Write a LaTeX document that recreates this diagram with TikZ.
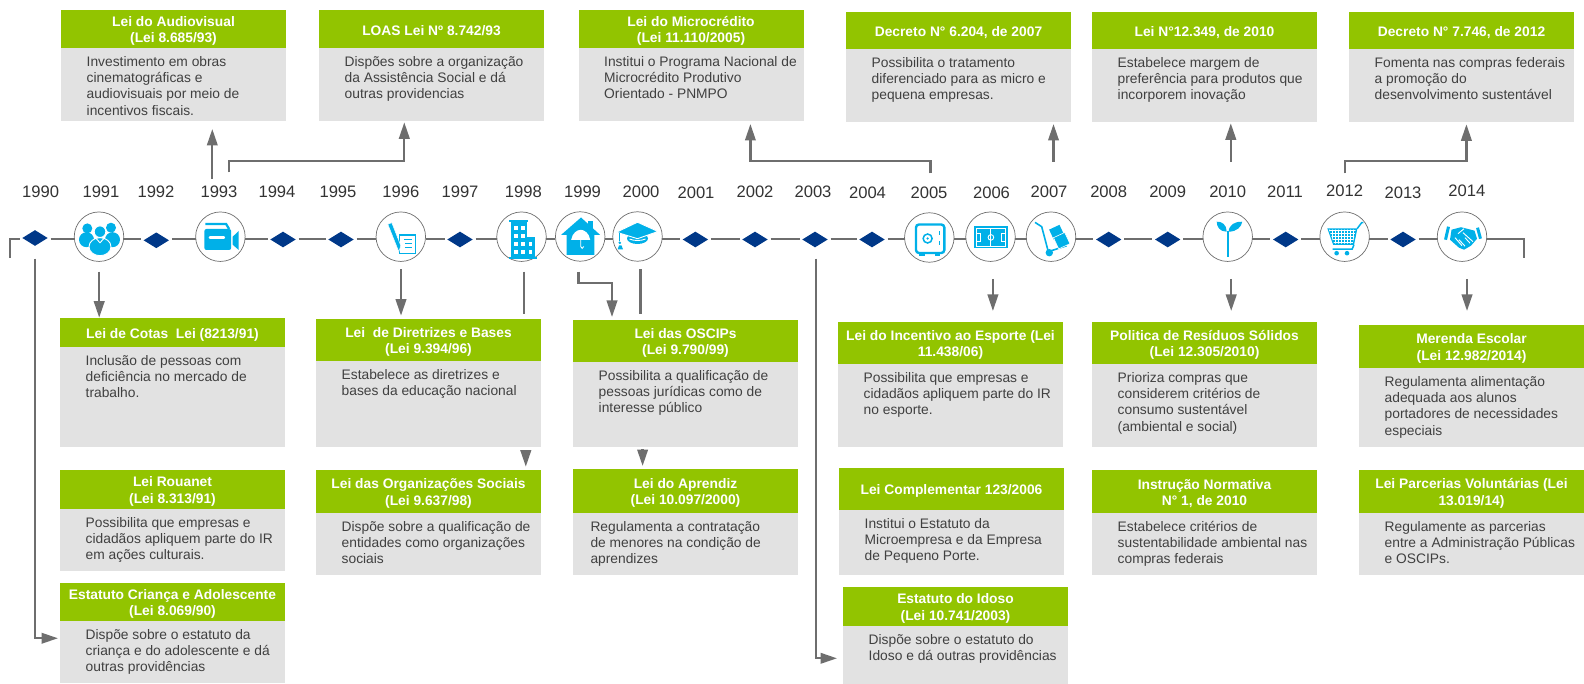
\documentclass[tikz,border=0pt]{standalone}
\usepackage{fontspec}
\setmainfont{Liberation Sans}
\usepackage{xcolor}
\usepackage{tikz}
\usetikzlibrary{shapes,arrows,positioning,calc,arrows.meta}

\definecolor{lawgreen}{RGB}{146,196,0}
\definecolor{lawgray}{RGB}{226,226,226}
\definecolor{lawtext}{RGB}{64,64,64}
\definecolor{yeartext}{RGB}{51,51,51}
\definecolor{yearblue}{RGB}{0,56,136}
\definecolor{iconblue}{RGB}{0,176,232}
\definecolor{flowgray}{RGB}{110,110,110}

\tikzset{
    headbox/.style={fill=lawgreen, text=white, font=\fontsize{13.8}{16.4}\selectfont\bfseries, align=center, minimum width=225pt, inner sep=0pt, outer sep=0pt},
    bodybox/.style={fill=lawgray, minimum width=225pt, inner sep=0pt, outer sep=0pt},
    bodytext/.style={text=lawtext, font=\fontsize{13.8}{16.4}\selectfont, align=left, anchor=north west, inner sep=0pt},
    yearlabel/.style={text=yeartext, font=\fontsize{16.6}{18}\selectfont, inner sep=0pt},
    yearmark/.style={diamond, fill=yearblue, minimum width=27pt, minimum height=17.3pt, inner sep=0pt, outer sep=2pt},
    yearring/.style={circle, draw=flowgray, line width=0.7pt, fill=white, minimum size=49.5pt, inner sep=0pt, outer sep=0pt},
    axisline/.style={draw=flowgray, line width=2.2pt},
    flowline/.style={draw=flowgray, line width=2.3pt},
    flow/.style={flowline, -{Triangle[length=16.5pt,width=10.5pt]}},
    icon/.style={fill=iconblue},
    iconline/.style={draw=iconblue, line width=1.8pt},
    iconcut/.style={draw=white, line width=0.9pt}
}

% one law: [text indent] name, left, top, head bottom, bottom, title, text
\newcommand{\lawcard}[8][25.5]{
    \node[headbox, minimum height={(#5-#4)*1pt}] (#2) at ({#3+112.5},{(#4+#5)/2}) {\rule{0pt}{14pt}#7};
    \node[bodybox, minimum height={(#6-#5)*1pt}] (#2body) at ({#3+112.5},{(#5+#6)/2}) {};
    \node[bodytext] (#2text) at ({#3+#1},{#5+6.5}) {\strut #8};
}

\begin{document}
\begin{tikzpicture}[x=1pt, y=-1pt]
    \useasboundingbox (0,0) rectangle (1584,684);

    % Top row
    \lawcard{audiovisual}{61}{10}{48}{121}{Lei do Audiovisual\\(Lei 8.685/93)}{Investimento em obras\\cinematográficas e\\audiovisuais por meio de\\incentivos fiscais.}
    \lawcard{loas}{319}{10}{48}{121}{LOAS Lei Nº 8.742/93}{Dispões sobre a organização\\da Assistência Social e dá\\outras providencias}
    \lawcard{microcredito}{578.5}{10}{48}{121}{Lei do Microcrédito\\(Lei 11.110/2005)}{Institui o Programa Nacional de\\Microcrédito Produtivo\\Orientado - PNMPO}
    \lawcard{decretoa}{846}{12}{49}{121.7}{Decreto N° 6.204, de 2007}{Possibilita o tratamento\\diferenciado para as micro e\\pequena empresas.}
    \lawcard{margem}{1092}{12}{49}{122}{Lei N°12.349, de 2010}{Estabelece margem de\\preferência para produtos que\\incorporem inovação}
    \lawcard{decretob}{1349}{12}{49}{122}{Decreto N° 7.746, de 2012}{Fomenta nas compras federais\\a promoção do\\desenvolvimento sustentável}

    % Bottom rows
    \lawcard{cotas}{60}{318}{347}{446.7}{Lei de Cotas\ \ Lei (8213/91)}{Inclusão de pessoas com\\deficiência no mercado de\\trabalho.}
    \lawcard{rouanet}{60}{470}{509}{570.7}{Lei Rouanet\\(Lei 8.313/91)}{Possibilita que empresas e\\cidadãos apliquem parte do IR\\em ações culturais.}
    \lawcard{eca}{60}{583}{621}{682.7}{Estatuto Criança e Adolescente\\(Lei 8.069/90)}{Dispõe sobre o estatuto da\\criança e do adolescente e dá\\outras providências}
    \lawcard{diretrizes}{316}{319}{361}{446.7}{Lei\ \ de Diretrizes e Bases\\(Lei 9.394/96)}{Estabelece as diretrizes e\\bases da educação nacional}
    \lawcard{sociais}{316}{470}{513}{575}{Lei das Organizações Sociais\\(Lei 9.637/98)}{Dispõe sobre a qualificação de\\entidades como organizações\\sociais}
    \lawcard{oscips}{573}{320}{362}{446.7}{Lei das OSCIPs\\(Lei 9.790/99)}{Possibilita a qualificação de\\pessoas jurídicas como de\\interesse público}
    \lawcard[17.3]{aprendiz}{573}{469}{513}{575}{Lei do Aprendiz\\(Lei 10.097/2000)}{Regulamenta a contratação\\de menores na condição de\\aprendizes}
    \lawcard{esporte}{838}{322}{364}{446.7}{Lei do Incentivo ao Esporte (Lei\\11.438/06)}{Possibilita que empresas e\\cidadãos apliquem parte do IR\\no esporte.}
    \lawcard{complementar}{839}{468}{510}{575}{Lei Complementar 123/2006}{Institui o Estatuto da\\Microempresa e da Empresa\\de Pequeno Porte.}
    \lawcard{idoso}{843}{587}{626}{683.7}{Estatuto do Idoso\\(Lei 10.741/2003)}{Dispõe sobre o estatuto do\\Idoso e dá outras providências}
    \lawcard{residuos}{1092}{322}{364}{446.7}{Politica de Resíduos Sólidos\\(Lei 12.305/2010)}{Prioriza compras que\\considerem critérios de\\consumo sustentável\\(ambiental e social)}
    \lawcard{instrucao}{1092}{470}{513}{575}{Instrução Normativa\\N° 1, de 2010}{Estabelece critérios de\\sustentabilidade ambiental nas\\compras federais}
    \lawcard{merenda}{1359}{325}{368}{446.7}{Merenda Escolar\\(Lei 12.982/2014)}{Regulamenta alimentação\\adequada aos alunos\\portadores de necessidades\\especiais}
    \lawcard{parcerias}{1359}{470}{513}{575}{Lei Parcerias Voluntárias (Lei\\13.019/14)}{Regulamente as parcerias\\entre a Administração Públicas\\e OSCIPs.}

    % Year labels
    \foreach \yr/\xx/\yy in {1990/40.6/191.7, 1991/101/191.7, 1992/156/191.7, 1993/219/191.7, 1994/277/191.7, 1995/338/191.7, 1996/400.8/191.7, 1997/460/191.7, 1998/523.3/191.7, 1999/582.5/191.7, 2000/641/191.7, 2001/696/192.7, 2002/755/191.7, 2003/813/191.7, 2004/867.5/192.7, 2005/929/192.7, 2006/991.5/192.7, 2007/1049/191.5, 2008/1108.7/192, 2009/1167.7/192, 2010/1227.7/192, 2011/1285/192, 2012/1344.6/191, 2013/1403/193, 2014/1466.8/191} {
        \node[yearlabel] (label\yr) at (\xx,\yy) {\yr};
    }

    % Years without an event
    \foreach \yr/\xx/\yy in {1990/35/238, 1992/156.3/240.3, 1994/283/239.5, 1995/341/239.5, 1997/460/239.5, 2001/695.4/239.5, 2002/755/239.5, 2003/815/239.5, 2004/872/239.5, 2008/1108.7/239.5, 2009/1167.7/239.5, 2011/1285.7/239.5, 2013/1403/239.5} {
        \node[yearmark] (y\yr) at (\xx,\yy) {};
    }

    % Years with an event
    \foreach \yr/\xx/\yy in {1991/99/236.7, 1993/220.4/236.7, 1996/400.8/236.7, 1998/521.5/236.7, 1999/580.2/236.5, 2000/637.5/236.5, 2005/929.3/237.5, 2006/990.5/236.7, 2007/1051/236.7, 2010/1227.7/236.7, 2012/1344.6/236.7, 2014/1462/236.7} {
        \node[yearring] (y\yr) at (\xx,\yy) {};
    }

    % Axis
    \coordinate (axis) at (0,239.3);
    \coordinate (axisstart) at (9.6,258);
    \coordinate (axisend) at (1523.7,258);
    \draw[axisline] (axisstart) |- (y1990.west |- axis);
    \foreach \a/\b in {1990/1991, 1991/1992, 1992/1993, 1993/1994, 1994/1995, 1995/1996, 1996/1997, 1997/1998, 1998/1999, 1999/2000, 2000/2001, 2001/2002, 2002/2003, 2003/2004, 2004/2005, 2005/2006, 2006/2007, 2007/2008, 2008/2009, 2009/2010, 2010/2011, 2011/2012, 2012/2013, 2013/2014} {
        \draw[axisline] (y\a.east |- axis) -- (y\b.west |- axis);
    }
    \draw[axisline] (y2014.east |- axis) -| (axisend);

    % Up to the top row
    \coordinate (s1993a) at (212.3,179);
    \coordinate (s1993b) at (228.7,172.3);
    \coordinate (k1993) at (404.3,160.7);
    \coordinate (s2005) at (930.4,173.3);
    \coordinate (k2005) at (750.4,161.3);
    \coordinate (s2007) at (1053.5,161.7);
    \coordinate (s2010a) at (1230.8,161.7);
    \coordinate (s2012) at (1344.8,173.3);
    \coordinate (k2012) at (1466.4,160.7);
    \draw[flow, shorten >=8pt] (s1993a) -- (s1993a |- audiovisualbody.south);
    \draw[flow, shorten >=1.3pt] (s1993b) |- (k1993) -- (k1993 |- loasbody.south);
    \draw[flow, shorten >=3pt] (s2005) |- (k2005) -- (k2005 |- microcreditobody.south);
    \draw[flow, shorten >=2.3pt] (s2007) -- (s2007 |- decretoabody.south);
    \draw[flow, shorten >=1.3pt] (s2010a) -- (s2010a |- margembody.south);
    \draw[flow, shorten >=2.3pt] (s2012) |- (k2012) -- (k2012 |- decretobbody.south);

    % Down to the lower rows
    \coordinate (s1990) at (35,258.7);
    \coordinate (s1991) at (99.2,271.7);
    \coordinate (s1996) at (401,269.3);
    \coordinate (s1998) at (523.8,271.7);
    \coordinate (h1998) at (525.8,450);
    \coordinate (s1999) at (578.6,271.7);
    \coordinate (k1999) at (612,282.7);
    \coordinate (s2000) at (640.4,269.3);
    \coordinate (h2000) at (642.6,449.3);
    \coordinate (s2003) at (815.8,258.7);
    \coordinate (s2006) at (992.9,279);
    \coordinate (s2010b) at (1231.2,279);
    \coordinate (s2014) at (1467,279);
    \draw[flow, shorten >=2pt] (s1990) |- ([yshift=13.6pt]ecabody.west);
    \draw[flow, shorten >=0.3pt] (s1991) -- (s1991 |- cotas.north);
    \draw[flow, shorten >=3.3pt] (s1996) -- (s1996 |- diretrizes.north);
    \draw[flowline, shorten >=5pt] (s1998) -- (s1998 |- diretrizes.north);
    \draw[flow, shorten >=3.3pt] (h1998) -- (h1998 |- sociais.north);
    \draw[flow, shorten >=3pt] (s1999) |- (k1999) -- (k1999 |- oscips.north);
    \draw[flowline, shorten >=6pt] (s2000) -- (s2000 |- oscips.north);
    \draw[flow, shorten >=3pt] (h2000) -- (h2000 |- aprendiz.north);
    \draw[flow, shorten >=6pt] (s2003) |- ([yshift=-3.45pt]idosobody.west);
    \draw[flow, shorten >=11pt] (s2006) -- (s2006 |- esporte.north);
    \draw[flow, shorten >=11pt] (s2010b) -- (s2010b |- residuos.north);
    \draw[flow, shorten >=14pt] (s2014) -- (s2014 |- merenda.north);

    % Icons: people
    \begin{scope}[shift={(y1991)}]
        \fill[icon] (-12.5,3) ellipse (7.5 and 7.5);
        \fill[icon] (13.5,3) ellipse (7.5 and 7.5);
        \fill[icon] (-11.7,-8.3) circle (5);
        \fill[icon] (12,-9) circle (5);
        \fill[icon, draw=white, line width=0.9pt] (1,10) ellipse (11 and 9);
        \fill[icon, draw=white, line width=0.9pt] (1,-5) circle (5.8);
        \draw[iconcut] (-3,1.8) -- (1,6) -- (5,1.8);
    \end{scope}

    % Icons: camera
    \begin{scope}[shift={(y1993)}]
        \fill[icon, rounded corners=2pt] (-16,-7.7) rectangle (10.7,13.3);
        \fill[icon] (12.3,0) -- (18.3,-5.7) -- (18.3,13.3) -- (12.3,8) -- cycle;
        \draw[iconline, line width=2.3pt] (-15,-12.7) -- (5.7,-12.7) -- (8.7,-7.7);
        \draw[draw=white, line width=2.6pt, line cap=round] (-10.5,1) -- (3.5,1);
    \end{scope}

    % Icons: pen and document
    \begin{scope}[shift={(y1996)}]
        \draw[iconline, line width=1.5pt] (-1.4,-1.7) rectangle (14.8,16.7);
        \draw[iconline, line width=1.2pt] (3,3) -- (11,3) (4,7) -- (11,7) (4,11) -- (11,11);
        \fill[icon, draw=white, line width=0.5pt] (-13,-12.5) -- (-9,-14) -- (0,9) -- (-2,15) -- (-4,10) -- cycle;
    \end{scope}

    % Icons: building
    \begin{scope}[shift={(y1998)}]
        \fill[icon] (-11,-15) rectangle (5.2,20);
        \fill[icon] (5.2,0) rectangle (13.8,20);
        \fill[icon] (-12.5,-16.7) rectangle (6.5,-15);
        \fill[icon] (-13,20) rectangle (15,22);
        \foreach \xx in {-8,-1} {
            \foreach \yy in {-11,-3,5,13} {
                \fill[white] (\xx,\yy) rectangle ++(4,4);
            }
        }
        \fill[white] (7,5) rectangle ++(3.5,4);
        \fill[white] (7,13) rectangle ++(3.5,4);
    \end{scope}

    % Icons: house and umbrella
    \begin{scope}[shift={(y1999)}]
        \fill[icon] (8.2,-15.7) rectangle (13.2,-6);
        \fill[icon] (0.8,-19) -- (19.8,-1.7) -- (14.2,-1.7) -- (14.2,18.3) -- (-13.5,18.3) -- (-13.5,-1.7) -- (-19,-1.7) -- cycle;
        \fill[white] (-9,3.3) .. controls (-8,-3.5) and (-3,-6.7) .. (0.5,-6.7) .. controls (4,-6.7) and (9,-3.5) .. (10,3.3) -- cycle;
        \draw[draw=white, line width=0.9pt] (0.5,3) -- (0.5,10) .. controls (0.5,12.5) and (3.5,12.5) .. (3.5,10);
    \end{scope}

    % Icons: graduation cap
    \begin{scope}[shift={(y2000)}]
        \fill[icon] (0,2) ellipse (10.5 and 5.5);
        \fill[icon, draw=white, line width=0.9pt] (0,-14.3) -- (20.5,-5) -- (0,2.2) -- (-21,-4.3) -- cycle;
        \draw[iconline, line width=0.9pt] (-17.7,-3.5) -- (-17.7,4.5);
        \fill[icon] (-17.7,6.3) circle (1.4);
        \fill[icon] (-19.8,12.8) -- (-18.5,9) -- (-16,9) -- (-14.5,12.8) -- cycle;
        \draw[iconcut] (-8,2.5) .. controls (-4,4.5) and (4,4.5) .. (8,2.5);
    \end{scope}

    % Icons: safe
    \begin{scope}[shift={(y2005)}]
        \draw[iconline, rounded corners=3pt, line width=2.4pt] (-13.3,-13) rectangle (15,15.5);
        \draw[iconline, line width=1.5pt] (-1.7,1) circle (4.5);
        \fill[icon] (-1.7,1) circle (1.3);
        \draw[iconline, line width=1.3pt] (10,-6) -- (10,-2) (10,4) -- (10,8);
        \fill[icon] (-10,15.5) rectangle (-4.5,18.8);
        \fill[icon] (6,15.5) rectangle (11,18.8);
    \end{scope}

    % Icons: field
    \begin{scope}[shift={(y2006)}]
        \fill[icon] (-16.3,-10.3) rectangle (17,11.7);
        \draw[iconcut] (-14,-8) rectangle (14.8,9.4);
        \draw[iconcut] (0.4,-8) -- (0.4,9.4);
        \draw[iconcut] (0.4,0.7) circle (2.8);
        \draw[iconcut] (-14,-3.5) -- (-10,-3.5) -- (-10,5) -- (-14,5);
        \draw[iconcut] (14.8,-3.5) -- (10.8,-3.5) -- (10.8,5) -- (14.8,5);
    \end{scope}

    % Icons: hand truck
    \begin{scope}[shift={(y2007)}]
        \draw[iconline, line width=1.6pt] (-16,-14.3) -- (-9.3,-10) -- (-2.7,15) -- (15.7,9);
        \fill[icon] (-1.7,16) circle (3.7);
        \fill[icon, rotate around={25:(5.7,-4.3)}] (0,-10) rectangle (11.4,1.4);
        \fill[icon, draw=white, line width=0.6pt, rotate around={25:(10.7,4)}] (4.5,-2.2) rectangle (16.9,10.2);
    \end{scope}

    % Icons: sprout
    \begin{scope}[shift={(y2010)}]
        \draw[iconline, line width=2.4pt] (0,-6) -- (0,20.7);
        \fill[icon] (-1,-5) .. controls (-8,-5) and (-11,-10) .. (-11,-15) .. controls (-6,-15.5) and (-1,-12) .. (-1,-5) -- cycle;
        \fill[icon] (1,-5) .. controls (9,-5) and (14,-10) .. (14.5,-15) .. controls (8,-15.5) and (1,-12) .. (1,-5) -- cycle;
    \end{scope}

    % Icons: cart
    \begin{scope}[shift={(y2012)}]
        \fill[icon] (-17.3,-8.3) -- (12.8,-8.3) -- (9.4,8.3) -- (-11.4,8.3) -- cycle;
        \begin{scope}
            \clip (-15.5,-7) -- (11,-7) -- (8,7) -- (-10.5,7) -- cycle;
            \foreach \xx in {-15,-12,...,12} {
                \draw[iconcut] (\xx,-9) -- (\xx,9);
            }
            \foreach \yy in {-6,-3,...,6} {
                \draw[iconcut] (-18,\yy) -- (14,\yy);
            }
        \end{scope}
        \draw[iconline, line width=1.5pt] (12.5,-8) -- (17,-14) -- (18.7,-14);
        \draw[iconline, line width=1.5pt] (9.4,8) -- (7.5,12.5) -- (-12,12.5);
        \fill[icon] (-8,16.5) circle (2.3);
        \fill[icon] (2.4,16.5) circle (2.3);
    \end{scope}

    % Icons: handshake
    \begin{scope}[shift={(y2014)}]
        \draw[iconline, line width=3pt] (-13.5,-10) -- (-16.5,3);
        \draw[iconline, line width=3pt] (15.5,-9) -- (18.5,2);
        \fill[icon] (-10.5,-7) -- (-1,-9.5) -- (5,-8) -- (12.5,-6) -- (15,2) -- (9,9) -- (2,13) -- (-3,11) -- (-12,3) -- cycle;
        \draw[iconcut] (-4,-3) -- (2,-8) (1,-4) -- (11,5) (-3,3) -- (3,9.5) (-7,1) -- (0,9) (3,1) -- (8,6.5);
    \end{scope}
\end{tikzpicture}
\end{document}
